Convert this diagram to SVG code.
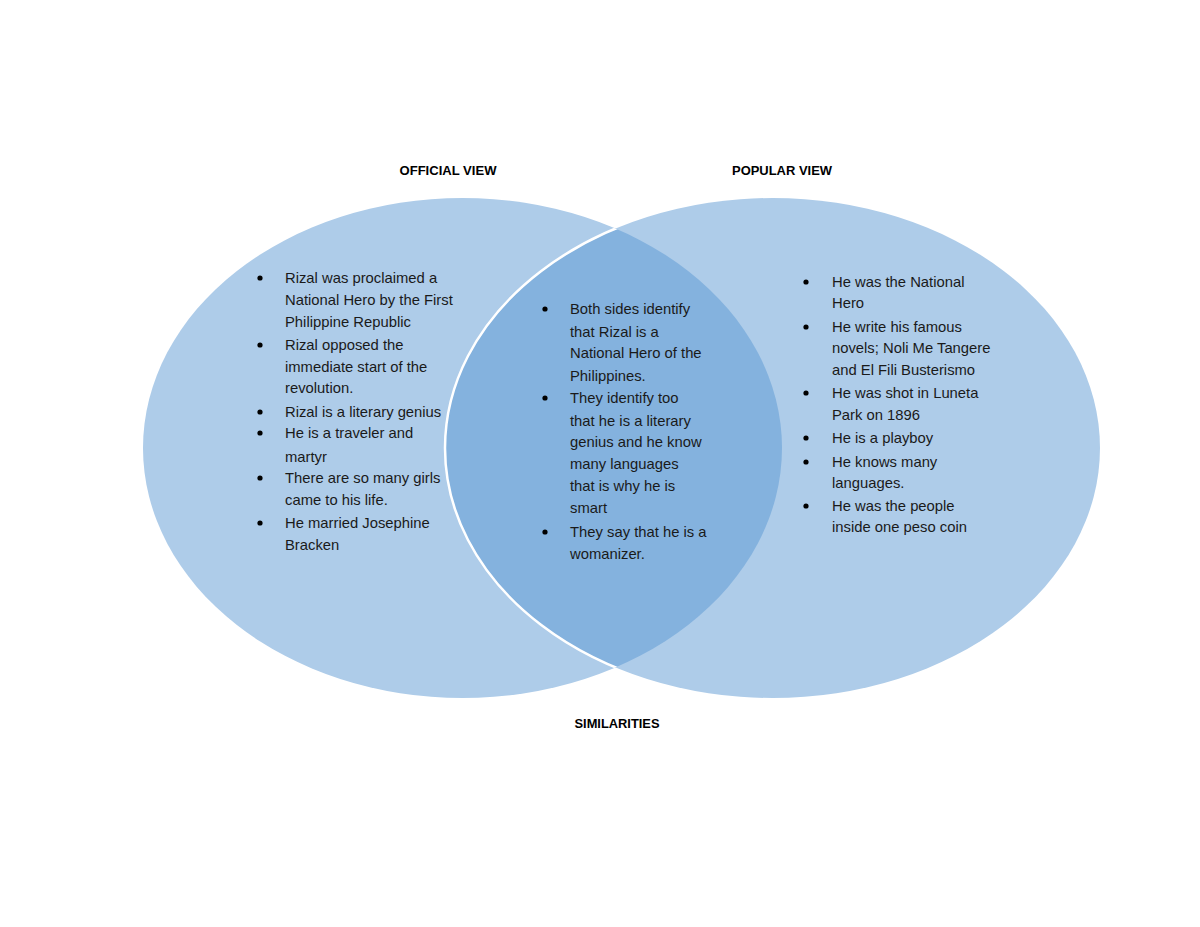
<svg xmlns="http://www.w3.org/2000/svg" width="1200" height="927" viewBox="0 0 1200 927">
  <style>
    .body { font-family: "Liberation Sans", Arial, sans-serif; font-size: 14.8px; fill: #1a1a1a; }
    .head { font-family: "Liberation Sans", Arial, sans-serif; font-size: 12px; font-weight: bold; fill: #000; text-anchor: middle; }
    .light { fill: #AECCE9; }
    .dark { fill: #84B2DE; }
    .bul { fill: #000; }
  </style>
  <defs>
    <clipPath id="clipLeft">
      <ellipse cx="462.5" cy="448" rx="319.5" ry="250"/>
    </clipPath>
  </defs>
  <rect width="1200" height="927" fill="#fff"/>

  <g id="circle-official">
    <ellipse class="light" cx="462.5" cy="448" rx="319.5" ry="250"/>
  </g>
  <g id="circle-popular">
    <ellipse class="light" cx="772.5" cy="448" rx="327.5" ry="250"/>
  </g>
  <g id="overlap">
    <ellipse class="dark" cx="772.5" cy="448" rx="327.5" ry="250" clip-path="url(#clipLeft)"/>
    <ellipse cx="772.5" cy="448" rx="327.5" ry="250" fill="none" stroke="#fff" stroke-width="2.5" clip-path="url(#clipLeft)"/>
  </g>
  <g id="connectors"></g>

  <g id="label-official">
    <text class="head" x="448" y="175" textLength="97" lengthAdjust="spacingAndGlyphs">OFFICIAL VIEW</text>
  </g>
  <g id="label-popular">
    <text class="head" x="782" y="175" textLength="100" lengthAdjust="spacingAndGlyphs">POPULAR VIEW</text>
  </g>
  <g id="label-similarities">
    <text class="head" x="617" y="728" textLength="85" lengthAdjust="spacingAndGlyphs">SIMILARITIES</text>
  </g>

  <g id="list-official">
    <circle class="bul" cx="260" cy="278" r="2.6"/>
    <circle class="bul" cx="260" cy="345" r="2.6"/>
    <circle class="bul" cx="260" cy="412" r="2.6"/>
    <circle class="bul" cx="260" cy="433" r="2.6"/>
    <circle class="bul" cx="260" cy="478" r="2.6"/>
    <circle class="bul" cx="260" cy="523" r="2.6"/>
    <text class="body" x="285" y="283">Rizal was proclaimed a</text>
    <text class="body" x="285" y="305">National Hero by the First</text>
    <text class="body" x="285" y="327">Philippine Republic</text>
    <text class="body" x="285" y="350">Rizal opposed the</text>
    <text class="body" x="285" y="372">immediate start of the</text>
    <text class="body" x="285" y="393">revolution.</text>
    <text class="body" x="285" y="417">Rizal is a literary genius</text>
    <text class="body" x="285" y="438">He is a traveler and</text>
    <text class="body" x="285" y="462">martyr</text>
    <text class="body" x="285" y="483">There are so many girls</text>
    <text class="body" x="285" y="505">came to his life.</text>
    <text class="body" x="285" y="528">He married Josephine</text>
    <text class="body" x="285" y="550">Bracken</text>
  </g>

  <g id="list-similarities">
    <circle class="bul" cx="545" cy="309" r="2.6"/>
    <circle class="bul" cx="545" cy="398" r="2.6"/>
    <circle class="bul" cx="545" cy="532" r="2.6"/>
    <text class="body" x="570" y="314">Both sides identify</text>
    <text class="body" x="570" y="337">that Rizal is a</text>
    <text class="body" x="570" y="358">National Hero of the</text>
    <text class="body" x="570" y="381">Philippines.</text>
    <text class="body" x="570" y="403">They identify too</text>
    <text class="body" x="570" y="426">that he is a literary</text>
    <text class="body" x="570" y="447">genius and he know</text>
    <text class="body" x="570" y="469">many languages</text>
    <text class="body" x="570" y="491">that is why he is</text>
    <text class="body" x="570" y="513">smart</text>
    <text class="body" x="570" y="537">They say that he is a</text>
    <text class="body" x="570" y="559">womanizer.</text>
  </g>

  <g id="list-popular">
    <circle class="bul" cx="806" cy="282" r="2.6"/>
    <circle class="bul" cx="806" cy="327" r="2.6"/>
    <circle class="bul" cx="806" cy="393" r="2.6"/>
    <circle class="bul" cx="806" cy="438" r="2.6"/>
    <circle class="bul" cx="806" cy="462" r="2.6"/>
    <circle class="bul" cx="806" cy="506" r="2.6"/>
    <text class="body" x="832" y="287">He was the National</text>
    <text class="body" x="832" y="308">Hero</text>
    <text class="body" x="832" y="332">He write his famous</text>
    <text class="body" x="832" y="353">novels; Noli Me Tangere</text>
    <text class="body" x="832" y="375">and El Fili Busterismo</text>
    <text class="body" x="832" y="398">He was shot in Luneta</text>
    <text class="body" x="832" y="420">Park on 1896</text>
    <text class="body" x="832" y="443">He is a playboy</text>
    <text class="body" x="832" y="467">He knows many</text>
    <text class="body" x="832" y="488">languages.</text>
    <text class="body" x="832" y="511">He was the people</text>
    <text class="body" x="832" y="532">inside one peso coin</text>
  </g>
</svg>
